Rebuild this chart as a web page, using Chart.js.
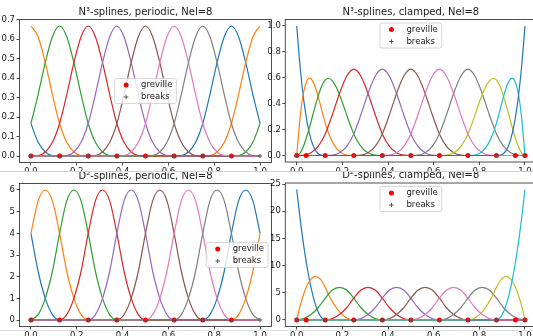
<!DOCTYPE html>
<html>
<head>
<meta charset="utf-8">
<script src="https://cdn.jsdelivr.net/npm/chart.js@4.4.0/dist/chart.umd.min.js"></script>
<style>
  html, body { margin: 0; padding: 0; background: #fff; }
  body { position: relative; width: 533px; height: 336px; overflow: hidden; }
  .pane { position: absolute; }
  .rule { position: absolute; left: 0; width: 533px; height: 0; z-index: 5; }
</style>
</head>
<body>
<div class="pane" id="pane-tl" style="left:0;top:0;z-index:1"><canvas id="c-tl"></canvas></div>
<div class="pane" id="pane-tr" style="left:268px;top:0;z-index:1"><canvas id="c-tr"></canvas></div>
<div class="pane" id="pane-bl" style="left:0;top:171px;z-index:3"><canvas id="c-bl"></canvas></div>
<div class="pane" id="pane-br" style="left:268px;top:171px;z-index:3"><canvas id="c-br"></canvas></div>
<div class="rule" style="top:171px;border-top:1px solid #d2d2d2"></div>
<div class="rule" style="top:330px;border-top:1px solid #e2e2e2"></div>
<script>
// sample positions shared by most curves (x in [0, 1])
const XS = [0,.03125,.0625,.09375,.125,.15625,.1875,.21875,.25,.28125,.3125,.34375,.375,.40625,.4375,.46875,.5,
            .53125,.5625,.59375,.625,.65625,.6875,.71875,.75,.78125,.8125,.84375,.875,.90625,.9375,.96875,1];

// N3 periodic (top left)
const n3PerBlue   = [.1667,.0703,.0208,.0026, 0,0,0,0,0,0,0,0, 0,0,0,0,0,0,0,0, 0, .0026,.0208,.0703,.1667,.3151,.4792,.6120,.6667,.6120,.4792,.3151,.1667];
const n3PerOrange = [.6667,.6120,.4792,.3151,.1667,.0703,.0208,.0026, 0,0,0,0,0,0,0,0, 0,0,0,0,0,0,0,0, 0, .0026,.0208,.0703,.1667,.3151,.4792,.6120,.6667];
const n3PerGreen  = [.1667,.3151,.4792,.6120,.6667,.6120,.4792,.3151,.1667,.0703,.0208,.0026, 0,0,0,0,0,0,0,0, 0,0,0,0,0,0,0,0, 0, .0026,.0208,.0703,.1667];
const n3PerRed    = [0,.0026,.0208,.0703,.1667,.3151,.4792,.6120,.6667,.6120,.4792,.3151,.1667,.0703,.0208,.0026,0, 0,0,0,0,0,0,0,0, 0,0,0,0,0,0,0,0];
const n3PerPurple = [0,0,0,0, 0,.0026,.0208,.0703,.1667,.3151,.4792,.6120,.6667,.6120,.4792,.3151,.1667,.0703,.0208,.0026,0, 0,0,0,0,0,0,0,0,0,0,0,0];
const n3PerBrown  = [0,0,0,0,0,0,0,0, 0,.0026,.0208,.0703,.1667,.3151,.4792,.6120,.6667,.6120,.4792,.3151,.1667,.0703,.0208,.0026,0, 0,0,0,0,0,0,0,0];
const n3PerPink   = [0,0,0,0,0,0,0,0,0,0,0,0, 0,.0026,.0208,.0703,.1667,.3151,.4792,.6120,.6667,.6120,.4792,.3151,.1667,.0703,.0208,.0026,0, 0,0,0,0];
const n3PerGray   = [0,0,0,0,0,0,0,0,0,0,0,0,0,0,0,0, 0,.0026,.0208,.0703,.1667,.3151,.4792,.6120,.6667,.6120,.4792,.3151,.1667,.0703,.0208,.0026,0];

// N3 clamped (top right); the boundary curves carry their own, denser x samples
const n3ClBlue0X  = [0,.015625,.03125,.046875,.0625,.078125,.09375,.109375,.125,1];
const n3ClBlue0   = [1,.6699,.4219,.2441,.125,.0527,.0156,.0020,0,0];
const n3ClOrangeX = [0,.015625,.03125,.046875,.0566,.0625,.078125,.09375,.109375,.125,.140625,.15625,.171875,.1875,.203125,.21875,.234375,.25,1];
const n3ClOrange  = [0,.3081,.4961,.5845,.5980,.5938,.5444,.4570,.3521,.25,.1675,.1055,.0610,.0313,.0132,.0039,.0005,0,0];
const n3ClGreenX  = [0,.015625,.03125,.046875,.0625,.078125,.09375,.109375,.125,.1385,.15625,.171875,.1875,.203125,.21875,.234375,.25,
                     .265625,.28125,.296875,.3125,.328125,.34375,.359375,.375,1];
const n3ClGreen   = [0,.0216,.0794,.1626,.2604,.3621,.4570,.5343,.5833,.5965,.5768,.5321,.4688,.3937,.3138,.2358,.1667,
                     .1117,.0703,.0407,.0208,.0088,.0026,.0003,0,0];
const n3ClRed     = [0,.0026,.0208,.0703,.1667,.3151,.4792,.6120,.6667,.6120,.4792,.3151,.1667,.0703,.0208,.0026,0, 0,0,0,0,0,0,0,0, 0,0,0,0,0,0,0,0];
const n3ClPurple  = [0,0,0,0, 0,.0026,.0208,.0703,.1667,.3151,.4792,.6120,.6667,.6120,.4792,.3151,.1667,.0703,.0208,.0026,0, 0,0,0,0,0,0,0,0,0,0,0,0];
const n3ClBrown   = [0,0,0,0,0,0,0,0, 0,.0026,.0208,.0703,.1667,.3151,.4792,.6120,.6667,.6120,.4792,.3151,.1667,.0703,.0208,.0026,0, 0,0,0,0,0,0,0,0];
const n3ClPink    = [0,0,0,0,0,0,0,0,0,0,0,0, 0,.0026,.0208,.0703,.1667,.3151,.4792,.6120,.6667,.6120,.4792,.3151,.1667,.0703,.0208,.0026,0, 0,0,0,0];
const n3ClGray    = [0,0,0,0,0,0,0,0,0,0,0,0,0,0,0,0, 0,.0026,.0208,.0703,.1667,.3151,.4792,.6120,.6667,.6120,.4792,.3151,.1667,.0703,.0208,.0026,0];
const n3ClOliveX  = [0,.625,.640625,.65625,.671875,.6875,.703125,.71875,.734375,.75,.765625,.78125,.796875,.8125,.828125,.84375,.8615,
                     .875,.890625,.90625,.921875,.9375,.953125,.96875,.984375,1];
const n3ClOlive   = [0,0,.0003,.0026,.0088,.0208,.0407,.0703,.1117,.1667,.2358,.3138,.3937,.4688,.5321,.5768,.5965,
                     .5833,.5343,.4570,.3621,.2604,.1626,.0794,.0216,0];
const n3ClCyanX   = [0,.75,.765625,.78125,.796875,.8125,.828125,.84375,.859375,.875,.890625,.90625,.921875,.9375,.9434,.953125,.96875,.984375,1];
const n3ClCyan    = [0,0,.0005,.0039,.0132,.0313,.0610,.1055,.1675,.25,.3521,.4570,.5444,.5938,.5980,.5845,.4961,.3081,0];
const n3ClBlue10X = [0,.875,.890625,.90625,.921875,.9375,.953125,.96875,.984375,1];
const n3ClBlue10  = [0,0,.0020,.0156,.0527,.125,.2441,.4219,.6699,1];

// D2 periodic (bottom left)
const d2PerBlue   = [4,2.25,1,.25, 0,0,0,0,0,0,0,0,0,0,0,0,0,0,0,0,0,0,0,0,0, .25,1,2.25,4,5.5,6,5.5,4];
const d2PerOrange = [4,5.5,6,5.5,4,2.25,1,.25, 0,0,0,0,0,0,0,0,0,0,0,0,0,0,0,0,0,0,0,0,0, .25,1,2.25,4];
const d2PerGreen  = [0,.25,1,2.25,4,5.5,6,5.5,4,2.25,1,.25,0, 0,0,0,0,0,0,0,0,0,0,0,0,0,0,0,0,0,0,0,0];
const d2PerRed    = [0,0,0,0, 0,.25,1,2.25,4,5.5,6,5.5,4,2.25,1,.25,0, 0,0,0,0,0,0,0,0,0,0,0,0,0,0,0,0];
const d2PerPurple = [0,0,0,0,0,0,0,0, 0,.25,1,2.25,4,5.5,6,5.5,4,2.25,1,.25,0, 0,0,0,0,0,0,0,0,0,0,0,0];
const d2PerBrown  = [0,0,0,0,0,0,0,0,0,0,0,0, 0,.25,1,2.25,4,5.5,6,5.5,4,2.25,1,.25,0, 0,0,0,0,0,0,0,0];
const d2PerPink   = [0,0,0,0,0,0,0,0,0,0,0,0,0,0,0,0, 0,.25,1,2.25,4,5.5,6,5.5,4,2.25,1,.25,0, 0,0,0,0];
const d2PerGray   = [0,0,0,0,0,0,0,0,0,0,0,0,0,0,0,0,0,0,0,0, 0,.25,1,2.25,4,5.5,6,5.5,4,2.25,1,.25,0];

// D2 clamped (bottom right)
const d2ClBlueX   = [0,.015625,.03125,.046875,.0625,.078125,.09375,.109375,.125,1];
const d2ClBlue    = [24,18.375,13.5,9.375,6,3.375,1.5,.375,0,0];
const d2ClOrangeX = [0,.015625,.03125,.046875,.0625,.078125,.0833,.09375,.109375,.125,.140625,.15625,.171875,.1875,.203125,.21875,.234375,.25,1];
const d2ClOrange  = [0,2.7188,4.875,6.4688,7.5,7.9688,8,7.875,7.2188,6,4.5938,3.375,2.3438,1.5,.8438,.375,.0938,0,0];
const d2ClGreen   = [0,.25,1,2.25,4,5.5,6,5.5,4,2.25,1,.25,0, 0,0,0,0,0,0,0,0,0,0,0,0,0,0,0,0,0,0,0,0];
const d2ClRed     = [0,0,0,0, 0,.25,1,2.25,4,5.5,6,5.5,4,2.25,1,.25,0, 0,0,0,0,0,0,0,0,0,0,0,0,0,0,0,0];
const d2ClPurple  = [0,0,0,0,0,0,0,0, 0,.25,1,2.25,4,5.5,6,5.5,4,2.25,1,.25,0, 0,0,0,0,0,0,0,0,0,0,0,0];
const d2ClBrown   = [0,0,0,0,0,0,0,0,0,0,0,0, 0,.25,1,2.25,4,5.5,6,5.5,4,2.25,1,.25,0, 0,0,0,0,0,0,0,0];
const d2ClPink    = [0,0,0,0,0,0,0,0,0,0,0,0,0,0,0,0, 0,.25,1,2.25,4,5.5,6,5.5,4,2.25,1,.25,0, 0,0,0,0];
const d2ClGray    = [0,0,0,0,0,0,0,0,0,0,0,0,0,0,0,0,0,0,0,0, 0,.25,1,2.25,4,5.5,6,5.5,4,2.25,1,.25,0];
const d2ClOliveX  = [0,.75,.765625,.78125,.796875,.8125,.828125,.84375,.859375,.875,.890625,.90625,.9167,.921875,.9375,.953125,.96875,.984375,1];
const d2ClOlive   = [0,0,.0938,.375,.8438,1.5,2.3438,3.375,4.5938,6,7.2188,7.875,8,7.9688,7.5,6.4688,4.875,2.7188,0];
const d2ClCyanX   = [0,.875,.890625,.90625,.921875,.9375,.953125,.96875,.984375,1];
const d2ClCyan    = [0,0,.375,1.5,3.375,6,9.375,13.5,18.375,24];

// marker positions
const grevillePer = [0,.125,.25,.375,.5,.625,.75,.875];
const grevilleCl  = [0,.0417,.125,.25,.375,.5,.625,.75,.875,.9583,1];
const breaks      = [0,.125,.25,.375,.5,.625,.75,.875,1];

// tick labels
const xTicks     = [0,.2,.4,.6,.8,1];
const yTicksN3P  = [0,.1,.2,.3,.4,.5,.6,.7];
const yTicksN3C  = [0,.2,.4,.6,.8,1];
const yTicksD2P  = [0,1,2,3,4,5,6];
const yTicksD2C  = [0,5,10,15,20,25];

const legendLabels = ['greville', 'breaks'];

const FONT = '"DejaVu Sans", sans-serif';
const TAB10 = ['#1f77b4','#ff7f0e','#2ca02c','#d62728','#9467bd','#8c564b','#e377c2','#7f7f7f','#bcbd22','#17becf'];

// a curve is either a y array on XS, or [xArray, yArray]
function curveSets(curves) {
  return curves.map((c, i) => {
    const xs = Array.isArray(c[0]) ? c[0] : XS;
    const ys = Array.isArray(c[0]) ? c[1] : c;
    if (ys.length !== xs.length) throw new Error('curve ' + i + ': ' + xs.length + ' x vs ' + ys.length + ' y');
    return {
      data: xs.map((x, k) => ({x: x, y: ys[k]})),
      borderColor: TAB10[i % 10],
      borderWidth: 1.2,
      pointRadius: 0,
      fill: false,
      cubicInterpolationMode: 'monotone',
      order: 100 - i   // later curves on top, like matplotlib
    };
  });
}

function markerSets(grev) {
  return [
    { data: grev.map(x => ({x: x, y: 0})), showLine: false, pointRadius: 2.5,
      pointBackgroundColor: '#ff0000', pointBorderColor: '#ff0000', pointBorderWidth: 0, order: 1 },
    { data: breaks.map(x => ({x: x, y: 0})), showLine: false, pointStyle: 'cross', pointRadius: 2.2,
      pointBorderColor: '#555', pointBorderWidth: 1, order: 0 }
  ];
}

const deco = {
  id: 'deco',
  afterDraw(chart, args, opt) {
    const ctx = chart.ctx, a = chart.chartArea;
    ctx.save();
    // frame
    ctx.strokeStyle = '#3a3a3a';
    ctx.lineWidth = 0.9;
    ctx.strokeRect(a.left, a.top, a.right - a.left, a.bottom - a.top);
    // title
    ctx.fillStyle = '#1a1a1a';
    ctx.font = '10px ' + FONT;
    ctx.textAlign = 'center';
    ctx.textBaseline = 'middle';
    ctx.fillText(opt.title, (a.left + a.right) / 2, a.top - 7.5);
    // legend box
    ctx.font = '8.5px ' + FONT;
    const tw = Math.max(...legendLabels.map(t => ctx.measureText(t).width));
    const w = 26.5 + tw + 4, h = 25;
    let x, y;
    if (opt.loc === 'center') { x = (a.left + a.right) / 2 - w / 2; y = (a.top + a.bottom) / 2 - h / 2; }
    else if (opt.loc === 'upper center') { x = (a.left + a.right) / 2 - w / 2; y = a.top + 3.5; }
    else { x = a.right - 3.5 - w; y = (a.top + a.bottom) / 2 - h / 2; }
    ctx.beginPath();
    ctx.roundRect(x, y, w, h, 2);
    ctx.fillStyle = 'rgba(255,255,255,0.8)';
    ctx.fill();
    ctx.strokeStyle = '#cccccc';
    ctx.lineWidth = 0.8;
    ctx.stroke();
    ctx.fillStyle = '#ff0000';
    ctx.beginPath();
    ctx.arc(x + 11.5, y + 6.5, 2.5, 0, Math.PI * 2);
    ctx.fill();
    ctx.strokeStyle = '#555';
    ctx.lineWidth = 1;
    ctx.beginPath();
    ctx.moveTo(x + 9.3, y + 18.5); ctx.lineTo(x + 13.7, y + 18.5);
    ctx.moveTo(x + 11.5, y + 16.3); ctx.lineTo(x + 11.5, y + 20.7);
    ctx.stroke();
    ctx.fillStyle = '#1a1a1a';
    ctx.textAlign = 'left';
    ctx.fillText(legendLabels[0], x + 26.5, y + 6.5);
    ctx.fillText(legendLabels[1], x + 26.5, y + 18.5);
    ctx.restore();
  }
};

function axis(min, max, ticks, fmt, fixed, isX) {
  return {
    type: 'linear',
    min: min, max: max,
    afterBuildTicks: s => { s.ticks = ticks.map(v => ({value: v})); },
    afterFit: s => { if (isX) s.height = fixed; else s.width = fixed; },
    grid: { display: true, drawOnChartArea: false, drawTicks: true, tickLength: 3, tickColor: '#3a3a3a', tickWidth: 0.9 },
    border: { display: false },
    ticks: { font: { family: FONT, size: 8.5 }, color: '#1a1a1a', padding: 1.5, autoSkip: false, maxRotation: 0,
             callback: v => fmt(v) }
  };
}

const f1 = v => v.toFixed(1);
const f0 = v => v.toFixed(0);

const panels = [
  { canvas: 'c-tl', w: 280, h: 171, area: {l: 19.5, r: 271.5, t: 19.5, b: 162.5},
    title: 'N\u00b3-splines, periodic, Nel=8', loc: 'center',
    curves: [n3PerBlue, n3PerOrange, n3PerGreen, n3PerRed, n3PerPurple, n3PerBrown, n3PerPink, n3PerGray],
    grev: grevillePer, ymin: -0.0333, ymax: 0.7, yTicks: yTicksN3P, yfmt: f1 },
  { canvas: 'c-tr', w: 280, h: 171, area: {l: 17.3, r: 268.4, t: 19.5, b: 162},
    title: 'N\u00b3-splines, clamped, Nel=8', loc: 'upper center',
    curves: [[n3ClBlue0X, n3ClBlue0], [n3ClOrangeX, n3ClOrange], [n3ClGreenX, n3ClGreen], n3ClRed, n3ClPurple, n3ClBrown,
             n3ClPink, n3ClGray, [n3ClOliveX, n3ClOlive], [n3ClCyanX, n3ClCyan], [n3ClBlue10X, n3ClBlue10]],
    grev: grevilleCl, ymin: -0.05, ymax: 1.05, yTicks: yTicksN3C, yfmt: f1 },
  { canvas: 'c-bl', w: 280, h: 165, area: {l: 19.5, r: 271.5, t: 12.5, b: 155.5},
    title: 'D\u00b2-splines, periodic, Nel=8', loc: 'center right',
    curves: [d2PerBlue, d2PerOrange, d2PerGreen, d2PerRed, d2PerPurple, d2PerBrown, d2PerPink, d2PerGray],
    grev: grevillePer, ymin: -0.3, ymax: 6.3, yTicks: yTicksD2P, yfmt: f0 },
  { canvas: 'c-br', w: 280, h: 165, area: {l: 17.3, r: 268.4, t: 12, b: 155.5},
    title: 'D\u00b2-splines, clamped, Nel=8', loc: 'upper center',
    curves: [[d2ClBlueX, d2ClBlue], [d2ClOrangeX, d2ClOrange], d2ClGreen, d2ClRed, d2ClPurple, d2ClBrown,
             d2ClPink, d2ClGray, [d2ClOliveX, d2ClOlive], [d2ClCyanX, d2ClCyan]],
    grev: grevilleCl, ymin: -1.2, ymax: 25.2, yTicks: yTicksD2C, yfmt: f0 }
];

panels.forEach(p => {
  const el = document.getElementById(p.canvas);
  el.width = p.w;
  el.height = p.h;
  new Chart(el, {
    type: 'line',
    data: { datasets: curveSets(p.curves).concat(markerSets(p.grev)) },
    plugins: [deco],
    options: {
      responsive: false,
      animation: false,
      events: [],
      layout: { padding: { left: 0, top: p.area.t, right: p.w - p.area.r, bottom: 0 } },
      plugins: {
        legend: { display: false },
        tooltip: { enabled: false },
        deco: { title: p.title, loc: p.loc }
      },
      scales: {
        x: axis(-0.05, 1.05, xTicks, f1, p.h - p.area.b, true),
        y: axis(p.ymin, p.ymax, p.yTicks, p.yfmt, p.area.l, false)
      }
    }
  });
});
</script>
</body>
</html>
